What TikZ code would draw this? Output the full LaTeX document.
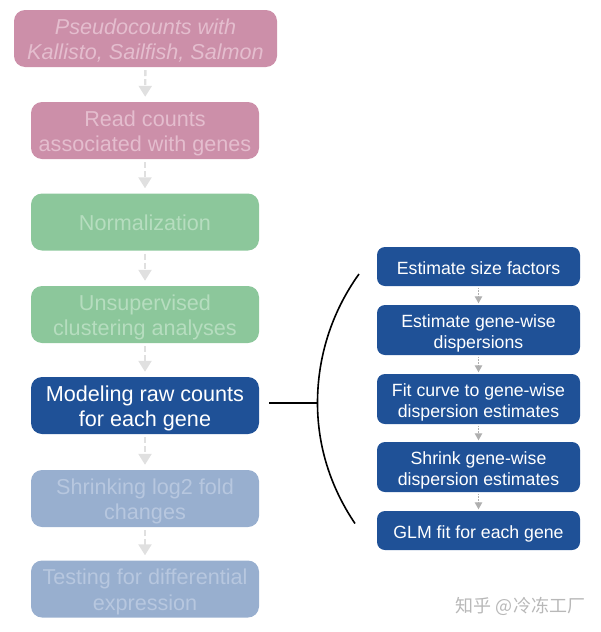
\documentclass[tikz,border=0pt]{standalone}
\usepackage{fontspec}
\setmainfont{Liberation Sans}
\newfontfamily\cjkfont{Noto Sans CJK SC}
\usetikzlibrary{arrows.meta}
\definecolor{pinkbox}{HTML}{CC8FA9}
\definecolor{pinktxt}{HTML}{E4BDCE}
\definecolor{greenbox}{HTML}{8CC79B}
\definecolor{greentxt}{HTML}{B6DDBF}
\definecolor{bluebox}{HTML}{1F5197}
\definecolor{fadebox}{HTML}{98AFCF}
\definecolor{fadetxt}{HTML}{B7C7DF}
\definecolor{lightarrow}{HTML}{E0E0E0}
\definecolor{grayarrow}{HTML}{AFAFAF}
\newcommand\ltop{\rule{0pt}{21.5pt}}
\newcommand\lbot{\rule[-4.5pt]{0pt}{4.5pt}}
\newcommand\rtop{\rule{0pt}{20pt}}
\newcommand\rbot{\rule[-3.5pt]{0pt}{3.5pt}}
\tikzset{
  bigbox/.style={rounded corners=11pt,inner sep=0pt,align=center,minimum height=57pt,minimum width=228pt,font=\fontsize{21.6}{25.5}\selectfont},
  smallbox/.style={rounded corners=8pt,inner sep=0pt,align=center,minimum width=203pt,fill=bluebox,text=white,font=\fontsize{17.7}{21.5}\selectfont},
  pinkstyle/.style={bigbox,fill=pinkbox,text=pinktxt},
  greenstyle/.style={bigbox,fill=greenbox,text=greentxt},
  fadestyle/.style={bigbox,fill=fadebox,text=fadetxt},
  flowlight/.style={draw=lightarrow,line width=2.4pt,dash pattern=on 6pt off 3pt,-{Triangle[length=11pt,width=13pt,fill=lightarrow]},shorten <=3pt,shorten >=5pt},
  flowgray/.style={draw=grayarrow,line width=1.1pt,dash pattern=on 1.5pt off 1.2pt,-{Triangle[length=7pt,width=7.5pt,fill=grayarrow]},shorten <=1.5pt,shorten >=1.5pt},
  blackline/.style={draw=black,line width=1.6pt}
}
\begin{document}
\begin{tikzpicture}[x=1pt,y=-1pt]
\useasboundingbox (0,0) rectangle (600,632);
\node[pinkstyle,minimum width=263pt,font=\fontsize{21.6}{25.5}\selectfont\itshape] (a) at (145.5,38.5) {\ltop Pseudocounts with\\Kallisto, Sailfish, Salmon\lbot};
\node[pinkstyle] (b) at (145,130.5) {\ltop Read counts\\associated with genes\lbot};
\node[greenstyle] (c) at (145,222) {\ltop Normalization\lbot};
\node[greenstyle] (d) at (145,314.5) {\ltop Unsupervised\\clustering analyses\lbot};
\node[bigbox,fill=bluebox,text=white] (e) at (145,405.5) {\ltop Modeling raw counts\\for each gene\lbot};
\node[fadestyle] (f) at (145,498.5) {\ltop Shrinking log2 fold\\changes\lbot};
\node[fadestyle] (g) at (145,589) {\ltop Testing for differential\\expression\lbot};
\foreach \p/\q in {a/b,b/c,c/d,d/e,e/f,f/g}{\draw[flowlight] (\p) -- (\q);}
\node[smallbox,minimum height=39pt] (r1) at (478.5,266.5) {\rtop Estimate size factors\rbot};
\node[smallbox,minimum height=50pt] (r2) at (478.5,330) {\rtop Estimate gene-wise\\dispersions\rbot};
\node[smallbox,minimum height=50pt] (r3) at (478.5,399) {\rtop Fit curve to gene-wise\\dispersion estimates\rbot};
\node[smallbox,minimum height=50pt] (r4) at (478.5,467) {\rtop Shrink gene-wise\\dispersion estimates\rbot};
\node[smallbox,minimum height=39pt] (r5) at (478.5,530.5) {\rtop GLM fit for each gene\rbot};
\foreach \p/\q in {r1/r2,r2/r3,r3/r4,r4/r5}{\draw[flowgray] (\p) -- (\q);}
\coordinate (brtop) at (359,274);
\coordinate (brmid) at (317.5,403);
\coordinate (brbot) at (355,523.5);
\coordinate (stub) at (269,403);
\draw[blackline] (brtop) .. controls (331,313) and (317.5,358) .. (brmid) .. controls (317.5,447) and (331,488) .. (brbot);
\draw[blackline] (stub) -- (brmid);
\node[anchor=center,text=black!28,font=\fontsize{18}{20}\selectfont\cjkfont] (wm) at (520.5,606) {知乎 @冷冻工厂};
\end{tikzpicture}
\end{document}
